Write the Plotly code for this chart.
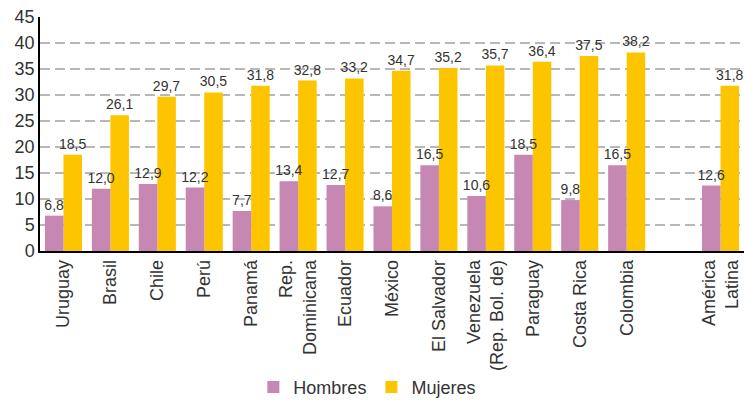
import plotly.graph_objects as go

paises = ["Uruguay", "Brasil", "Chile", "Perú", "Panamá", "Rep.<br>Dominicana", "Ecuador",
          "México", "El Salvador", "Venezuela<br>(Rep. Bol. de)", "Paraguay", "Costa Rica",
          "Colombia", "", "América<br>Latina"]
hombres = [6.8, 12.0, 12.9, 12.2, 7.7, 13.4, 12.7, 8.6, 16.5, 10.6, 18.5, 9.8, 16.5, None, 12.6]
mujeres = [18.5, 26.1, 29.7, 30.5, 31.8, 32.8, 33.2, 34.7, 35.2, 35.7, 36.4, 37.5, 38.2, None, 31.8]

pos = list(range(len(paises)))


def etiqueta(v):
    return "" if v is None else f"{v:.1f}".replace(".", ",")


w = 0.395
fig = go.Figure()
# mujeres first so the hombres labels are drawn on top of the yellow bars
fig.add_trace(go.Bar(x=pos, y=mujeres, name="Mujeres", marker_color="#fdc500",
                     width=w, offset=0,
                     text=[etiqueta(v) for v in mujeres], textposition="outside"))
fig.add_trace(go.Bar(x=pos, y=hombres, name="Hombres", marker_color="#c687b3",
                     width=w, offset=-w,
                     text=[etiqueta(v) for v in hombres], textposition="outside"))
fig.update_traces(constraintext="none", cliponaxis=False, marker_line_width=0,
                  textfont=dict(size=14, color="#333333"))

fig.update_layout(
    width=744, height=400,
    paper_bgcolor="white", plot_bgcolor="white",
    font=dict(family="Liberation Sans, Arial, sans-serif", color="#333333"),
    barmode="overlay",
    margin=dict(l=40, r=0, t=17, b=149, autoexpand=False),
    showlegend=True,
    legend=dict(orientation="h", x=0.465, xanchor="center", traceorder="reversed",
                yref="container", y=0.078, yanchor="top",
                font=dict(size=18), itemwidth=30),
)
fig.update_xaxes(range=[-0.5, 14.5], tickmode="array", tickvals=pos, ticktext=paises,
                 tickangle=-90, tickfont=dict(size=18), showline=True,
                 linecolor="black", linewidth=1.5, ticks="", showgrid=False)
fig.update_yaxes(range=[0, 45.02], tickvals=list(range(0, 50, 5)), tickfont=dict(size=18),
                 showline=True, linecolor="black", linewidth=1.5, showgrid=True,
                 gridcolor="#b8b8b8", griddash="10px,5px", gridwidth=1.5,
                 zeroline=False, ticks="")

# drop the default 8px page margin so the figure fills the window
fig.write_html("out.html", config={"displayModeBar": False},
               post_script="document.body.style.margin='0';")
